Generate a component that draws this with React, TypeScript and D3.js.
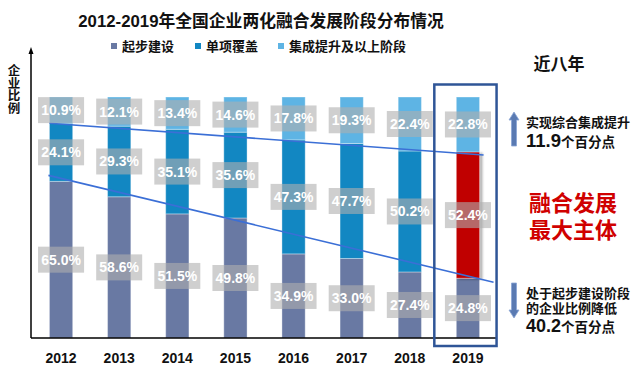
import React from "react";
import * as d3 from "d3";

const years = ["2012", "2013", "2014", "2015", "2016", "2017", "2018", "2019"];
const seriesNames = ["起步建设", "单项覆盖", "集成提升及以上阶段"];
const startStage = [65.0, 58.6, 51.5, 49.8, 34.9, 33.0, 27.4, 24.8];
const singleCover = [24.1, 29.3, 35.1, 35.6, 47.3, 47.7, 50.2, 52.4];
const integrated = [10.9, 12.1, 13.4, 14.6, 17.8, 19.3, 22.4, 22.8];
const colors = ["#6979a3", "#1287c2", "#5eb4e4"];
const highlightColor = "#c00000";

const W = 640;
const H = 385;
const CJK = "'Liberation Sans', 'Noto Sans CJK SC', sans-serif";
const CJKV = "'Noto Sans CJK SC', 'Noto Sans', sans-serif";
const NUM = "'Liberation Sans', Arial, sans-serif";

export default function App() {
  const x = d3.scaleBand<string>().domain(years).range([32, 497]).paddingInner(0.6).paddingOuter(0.3);
  const y = d3.scaleLinear().domain([0, 100]).range([338, 97]);
  const bw = x.bandwidth();

  const rows = years.map((yr, i) => ({
    year: yr,
    a: startStage[i],
    b: singleCover[i],
    c: integrated[i],
  }));
  const stack = d3.stack<any>().keys(["a", "b", "c"])(rows);

  const last = years.length - 1;
  const x0 = x(years[0])!;
  const xl = x(years[last])!;

  // trend lines
  const upper = [
    [x0, y(100 - integrated[0])],
    [xl + bw + 4, y(100 - integrated[last]) + 3],
  ];
  const lower = [
    [x0 - 1, y(startStage[0]) - 6],
    [xl + bw + 14, y(startStage[last]) + 4],
  ];
  const line = d3.line();

  const upArrow = (cx: number, top: number, bottom: number) =>
    `M${cx},${top} L${cx + 5},${top + 8} L${cx + 2.5},${top + 8} L${cx + 2.5},${bottom} L${cx - 2.5},${bottom} L${cx - 2.5},${top + 8} L${cx - 5},${top + 8} Z`;
  const downArrow = (cx: number, top: number, bottom: number) =>
    `M${cx},${bottom} L${cx + 5},${bottom - 8} L${cx + 2.5},${bottom - 8} L${cx + 2.5},${top} L${cx - 2.5},${top} L${cx - 2.5},${bottom - 8} L${cx - 5},${bottom - 8} Z`;

  const legendX = [111, 195, 278];

  return (
    <svg width={W} height={H} style={{ position: "absolute", left: 0, top: 0, background: "#fff" }}>
      <defs>
        <filter id="sh" x="-20%" y="-5%" width="160%" height="115%">
          <feDropShadow dx="2.5" dy="1" stdDeviation="1" floodColor="#000" floodOpacity="0.35" />
        </filter>
      </defs>
      <rect width={W} height={H} fill="#fff" />
      {/* title */}
      <text x={261} y={27} textAnchor="middle" fontFamily={CJK} fontWeight="bold" fontSize={16.8} fill="#111">
        2012-2019年全国企业两化融合发展阶段分布情况
      </text>
      {/* legend */}
      {seriesNames.map((n, i) => (
        <g key={n}>
          <rect x={legendX[i]} y={43} width={6} height={6} fill={colors[i]} />
          <text x={legendX[i] + 11} y={51} fontFamily={CJK} fontWeight="bold" fontSize={13} fill="#111">
            {n}
          </text>
        </g>
      ))}
      {/* y label */}
      <text
        x={14}
        y={64}
        fontFamily={CJKV}
        fontWeight="bold"
        fontSize={12.5}
        fill="#111"
        style={{ writingMode: "vertical-rl", textOrientation: "upright" } as any}
      >
        企业比例
      </text>
      {/* bars */}
      {stack.map((s, si) => (
        <g key={si}>
          {s.map((d, i) => {
            const isHi = si === 1 && i === last;
            return (
              <rect
                key={i}
                x={x(years[i])!}
                y={y(d[1])}
                width={bw}
                height={y(d[0]) - y(d[1])}
                fill={isHi ? highlightColor : colors[si]}
                stroke="#ffffff"
                strokeOpacity={0.35}
                strokeWidth={1}
                filter={isHi ? "url(#sh)" : undefined}
              />
            );
          })}
        </g>
      ))}
      {/* axes */}
      <line x1={31} y1={338} x2={497} y2={338} stroke="#000" strokeWidth={1.5} />
      <line x1={31} y1={338} x2={31} y2={52} stroke="#000" strokeWidth={1.5} />
      <path d="M31,47 L28.5,54 L33.5,54 Z" fill="#000" />
      {/* trend lines */}
      <path d={line(upper as any)!} stroke="#3b6fd6" strokeWidth={1.6} fill="none" />
      <path d={line(lower as any)!} stroke="#3b6fd6" strokeWidth={1.6} fill="none" />
      {/* value labels */}
      {stack.map((s, si) => (
        <g key={"l" + si}>
          {s.map((d, i) => {
            const cx = x(years[i])! + bw / 2;
            const cy = (y(d[0]) + y(d[1])) / 2;
            const v = (d[1] - d[0]).toFixed(1) + "%";
            return (
              <g key={i}>
                <rect x={cx - 23} y={cy - 13} width={46} height={26} fill="#afafaf" fillOpacity={0.6} />
                <text x={cx} y={cy + 5} textAnchor="middle" fontFamily={NUM} fontWeight="bold" fontSize={14} fill="#fff">
                  {v}
                </text>
              </g>
            );
          })}
        </g>
      ))}
      {/* year ticks */}
      {years.map((yr) => (
        <text key={yr} x={x(yr)! + bw / 2} y={363} textAnchor="middle" fontFamily={NUM} fontWeight="bold" fontSize={14} fill="#111">
          {yr}
        </text>
      ))}
      {/* highlight box */}
      <rect x={xl - 22} y={84.5} width={bw + 39} height={261.5} fill="none" stroke="#2f5597" strokeWidth={2.5} />
      {/* right annotations */}
      <text x={559} y={70} textAnchor="middle" fontFamily={CJK} fontWeight="bold" fontSize={17} fill="#111">
        近八年
      </text>
      <path d={upArrow(514, 112, 146)} fill="#5a7ab2" stroke="#8aa6d6" strokeWidth={0.8} />
      <text x={526} y={127} fontFamily={CJK} fontWeight="bold" fontSize={13} fill="#111">
        实现综合集成提升
      </text>
      <text x={526} y={147} fontFamily={CJK} fontWeight="bold" fill="#111">
        <tspan fontSize={18.5}>11.9</tspan>
        <tspan fontSize={13.5}>个百分点</tspan>
      </text>
      <text x={529} y={211} fontFamily={CJK} fontWeight="bold" fontSize={22} fill="#d00000">
        融合发展
      </text>
      <text x={529} y={238} fontFamily={CJK} fontWeight="bold" fontSize={22} fill="#d00000">
        最大主体
      </text>
      <path d={downArrow(514, 283, 318)} fill="#5a7ab2" stroke="#8aa6d6" strokeWidth={0.8} />
      <text x={526} y={297.5} fontFamily={CJK} fontWeight="bold" fontSize={13} fill="#111">
        处于起步建设阶段
      </text>
      <text x={526} y={312.5} fontFamily={CJK} fontWeight="bold" fontSize={13} fill="#111">
        的企业比例降低
      </text>
      <text x={526} y={332} fontFamily={CJK} fontWeight="bold" fill="#111">
        <tspan fontSize={18}>40.2</tspan>
        <tspan fontSize={13.5}>个百分点</tspan>
      </text>
    </svg>
  );
}
